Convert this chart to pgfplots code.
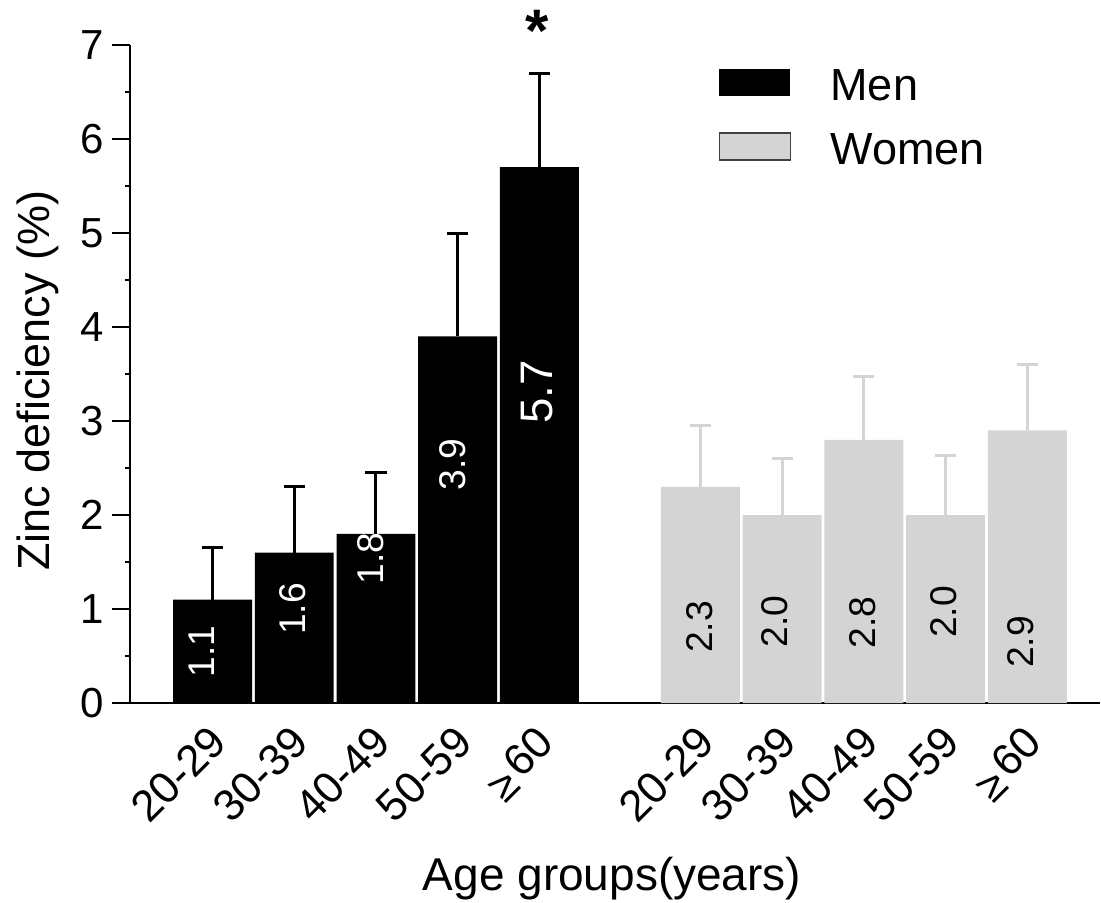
\documentclass[border=0pt]{standalone}
\usepackage{fontspec}
\setmainfont{Liberation Sans}
\usepackage{pgfplots}
\pgfplotsset{compat=1.18}
\usepackage{pgfplotstable}
\definecolor{wgray}{HTML}{D4D4D4}

\pgfplotstableread{
x y err
0 1.1 0.55
1 1.6 0.70
2 1.8 0.65
3 3.9 1.10
4 5.7 1.00
}\men
\pgfplotstableread{
x y err
5.97 2.3 0.65
6.97 2.0 0.60
7.97 2.8 0.67
8.97 2.0 0.63
9.97 2.9 0.70
}\women
\pgfplotstableread{
x y lab
-0.135 0.55 1.1
0.975 1.00 1.6
1.94 1.54 1.8
2.94 2.54 3.9
}\menlab
\pgfplotstableread{
x y lab
3.97 3.31 5.7
}\menlabbig
\pgfplotstableread{
x y lab
5.96 0.81 2.3
6.88 0.87 2.0
7.95 0.86 2.8
8.95 0.97 2.0
9.895 0.65 2.9
}\womenlab
\pgfplotstableread{
x y lab
3.97 7.15 *
}\star

\begin{document}
\begin{tikzpicture}
\useasboundingbox (0,0) rectangle (550.5pt,451pt);
\begin{axis}[
  at={(65pt,99.5pt)}, anchor=south west,
  scale only axis, width=485pt, height=329pt,
  clip=false,
  xmin=-1.01, xmax=10.86, ymin=0, ymax=7,
  axis x line*=bottom, axis y line*=left,
  axis line style={line width=1.2pt, black},
  ytick={0,1,...,7}, minor ytick={0.5,1.5,...,6.5},
  tick align=outside,
  major tick length=9pt, minor tick length=2.5pt,
  every major tick/.style={black, line width=1.2pt},
  every minor tick/.style={black, line width=1pt},
  /pgf/number format/assume math mode=true,
  yticklabel style={font=\fontsize{21}{24}\selectfont, inner sep=0pt, xshift=-4pt},
  xtick={0,1,2,3,4,5.97,6.97,7.97,8.97,9.97},
  xticklabels={20-29,30-39,40-49,50-59,{\raisebox{-3pt}{≥}\hspace{2pt}60},20-29,30-39,40-49,50-59,{\raisebox{-3pt}{≥}\hspace{2pt}60}},
  x tick style={draw=none},
  xticklabel style={font=\fontsize{22}{25}\selectfont, inner sep=0pt, xshift=-2.5pt, yshift=-1pt, rotate=45, anchor=north east},
  xlabel={Age groups(years)},
  ylabel={Zinc deficiency (\%)},
  every axis x label/.style={at={(axis description cs:0.497,-0.2842)}, anchor=base, inner sep=0pt, font=\fontsize{23}{26}\selectfont},
  every axis y label/.style={at={(axis description cs:-0.0825,0.49)}, anchor=base, rotate=90, inner sep=0pt, font=\fontsize{22.5}{26}\selectfont},
  legend style={at={(axis description cs:0.607,0.963)}, anchor=north west, draw=none, fill=none, inner sep=0pt, outer sep=0pt, row sep=15.7pt, column sep=0pt, cells={anchor=base west}, nodes={inner sep=0pt, text depth=0pt}, font=\fontsize{22.5}{26}\selectfont},
]
\addplot[ybar, bar width=0.966, bar shift=0pt, fill=black, draw=none,
  error bars/.cd, y dir=plus, y explicit,
  error bar style={line width=1.5pt, black},
  error mark options={rotate=90, mark size=5.3pt, line width=1.5pt, black},
  /pgfplots/legend image code/.code={\fill[black] (0pt,2.3pt) rectangle (35.5pt,15.8pt); \path[draw=none, fill=none] (0pt,2.3pt) rectangle (55.5pt,15.8pt);}]
  table[x=x, y=y, y error=err]{\men};
\addlegendentry{Men}
\addplot[ybar, bar width=0.966, bar shift=0pt, fill=wgray, draw=none,
  error bars/.cd, y dir=plus, y explicit,
  error bar style={line width=1.5pt, wgray},
  error mark options={rotate=90, mark size=5.3pt, line width=1.5pt, wgray},
  /pgfplots/legend image code/.code={\filldraw[fill=wgray, draw=black!75, line width=0.7pt] (0pt,2.3pt) rectangle (35.5pt,15.8pt); \path[draw=none, fill=none] (0pt,2.3pt) rectangle (55.5pt,15.8pt);}]
  table[x=x, y=y, y error=err]{\women};
\addlegendentry{Women}
\addplot[forget plot, draw=none, mark=none, nodes near coords, point meta=explicit symbolic,
  every node near coord/.append style={rotate=90, anchor=center, inner sep=0pt, text=white, font=\fontsize{18.6}{20}\selectfont}]
  table[x=x, y=y, meta=lab]{\menlab};
\addplot[forget plot, draw=none, mark=none, nodes near coords, point meta=explicit symbolic,
  every node near coord/.append style={rotate=90, anchor=center, inner sep=0pt, text=white, font=\fontsize{22.8}{25}\selectfont}]
  table[x=x, y=y, meta=lab]{\menlabbig};
\addplot[forget plot, draw=none, mark=none, nodes near coords, point meta=explicit symbolic,
  every node near coord/.append style={rotate=90, anchor=center, inner sep=0pt, text=black, font=\fontsize{18.6}{20}\selectfont}]
  table[x=x, y=y, meta=lab]{\womenlab};
\addplot[forget plot, draw=none, mark=none, nodes near coords, point meta=explicit symbolic,
  every node near coord/.append style={anchor=center, inner sep=0pt, text=black, font=\bfseries\fontsize{30}{32}\selectfont}]
  table[x=x, y=y, meta=lab]{\star};
\end{axis}
\end{tikzpicture}
\end{document}
